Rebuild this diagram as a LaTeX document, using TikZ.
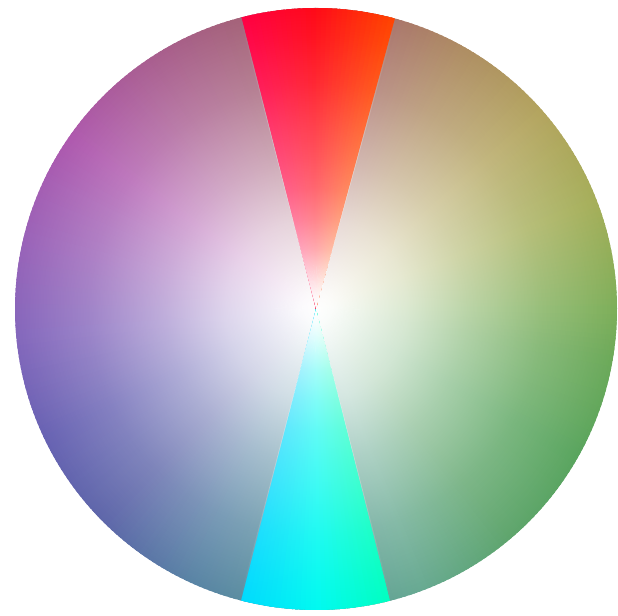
\documentclass[tikz,border=0pt]{standalone}
\usepackage{xcolor}
\usetikzlibrary{fadings}

% rim colours of the muted wheel, by angle
\definecolor{hue000}{RGB}{120,170,80}
\definecolor{hue020}{RGB}{160,170,80}
\definecolor{hue040}{RGB}{175,160,85}
\definecolor{hue060}{RGB}{170,135,90}
\definecolor{hue075}{RGB}{165,110,100}
\definecolor{hue090}{RGB}{165,100,110}
\definecolor{hue105}{RGB}{160,90,115}
\definecolor{hue125}{RGB}{165,85,140}
\definecolor{hue145}{RGB}{170,80,170}
\definecolor{hue165}{RGB}{150,90,180}
\definecolor{hue185}{RGB}{125,95,185}
\definecolor{hue205}{RGB}{95,90,175}
\definecolor{hue225}{RGB}{85,95,165}
\definecolor{hue245}{RGB}{80,125,160}
\definecolor{hue270}{RGB}{85,150,150}
\definecolor{hue290}{RGB}{95,165,140}
\definecolor{hue310}{RGB}{85,160,100}
\definecolor{hue330}{RGB}{80,160,85}
\definecolor{hue350}{RGB}{100,165,80}
% the two bright wedges
\definecolor{redR}{RGB}{255,70,0}
\definecolor{redM}{RGB}{255,10,25}
\definecolor{redL}{RGB}{255,0,75}
\definecolor{cyanL}{RGB}{0,215,255}
\definecolor{cyanM}{RGB}{0,250,240}
\definecolor{cyanR}{RGB}{0,255,185}

\pgfdeclareradialshading{glowshade}{\pgfpointorigin}{color(0bp)=(white);
  color(1.25bp)=(white!97!black); color(7.5bp)=(white!74!black);
  color(12.5bp)=(white!50!black); color(18.75bp)=(white!24!black);
  color(25bp)=(white!5!black); color(50bp)=(white!5!black)}
\pgfdeclarefading{glow}{\pgfuseshading{glowshade}}
\pgfdeclareradialshading{wedgeshade}{\pgfpointorigin}{color(0bp)=(white);
  color(1bp)=(white!97!black); color(2.5bp)=(white!86!black);
  color(5bp)=(white!65!black); color(7.5bp)=(white!50!black);
  color(10bp)=(white!38!black); color(12.5bp)=(white!30!black);
  color(15bp)=(white!23!black); color(18.75bp)=(white!12!black);
  color(22.5bp)=(white!4!black); color(25bp)=(black); color(50bp)=(black)}
\pgfdeclarefading{wedgeglow}{\pgfuseshading{wedgeshade}}

\def\rad{3.01}

\begin{document}
\begin{tikzpicture}[sector/.style={fill=#1}]
  \useasboundingbox (0,0) rectangle (6.18,6.16);
  \begin{scope}[shift={(3.16,3.07)}]
    \coordinate (O) at (0,0);
    % muted wheel
    \foreach \sa/\sb/\ca/\cb in {0/20/hue000/hue020, 20/40/hue020/hue040,
        40/60/hue040/hue060, 60/75/hue060/hue075, 75/90/hue075/hue090,
        90/105/hue090/hue105, 105/125/hue105/hue125, 125/145/hue125/hue145,
        145/165/hue145/hue165, 165/185/hue165/hue185, 185/205/hue185/hue205,
        205/225/hue205/hue225, 225/245/hue225/hue245, 245/270/hue245/hue270,
        270/290/hue270/hue290, 290/310/hue290/hue310, 310/330/hue310/hue330,
        330/350/hue330/hue350, 350/360/hue350/hue000}{
      \pgfmathtruncatemacro{\n}{\sb-\sa-1}
      \foreach \i in {0,...,\n}{
        \pgfmathtruncatemacro{\p}{100-100*\i/(\sb-\sa)}
        \pgfmathsetmacro{\a}{\sa+\i}
        \fill[sector=\ca!\p!\cb] (O) -- (\a:\rad)
          arc[start angle=\a, delta angle=1.6, radius=\rad] -- cycle;
      }
    }
    \fill[white, path fading=glow] (O) circle (\rad);
    % red and cyan wedges
    \foreach \wa/\wb in {74.8/104.3, 255.6/284.2}{
      \begin{scope}
        \clip (O) -- (\wa:\rad) arc[start angle=\wa, end angle=\wb, radius=\rad] -- cycle;
        \foreach \sa/\sb/\ca/\cb in {74/90/redR/redM, 90/106/redM/redL,
            254/270/cyanL/cyanM, 270/286/cyanM/cyanR}{
          \foreach \i in {0,...,15}{
            \pgfmathtruncatemacro{\p}{100-100*\i/16}
            \pgfmathsetmacro{\a}{\sa+\i}
            \fill[sector=\ca!\p!\cb] (O) -- (\a:\rad)
              arc[start angle=\a, delta angle=1.6, radius=\rad] -- cycle;
          }
        }
      \end{scope}
      \begin{scope}
        \clip (O) -- (\wa-0.3:\rad) arc[start angle=\wa-0.3, end angle=\wb+0.3, radius=\rad] -- cycle;
        \fill[white, path fading=wedgeglow] (O) circle (\rad);
      \end{scope}
    }
  \end{scope}
\end{tikzpicture}
\end{document}
